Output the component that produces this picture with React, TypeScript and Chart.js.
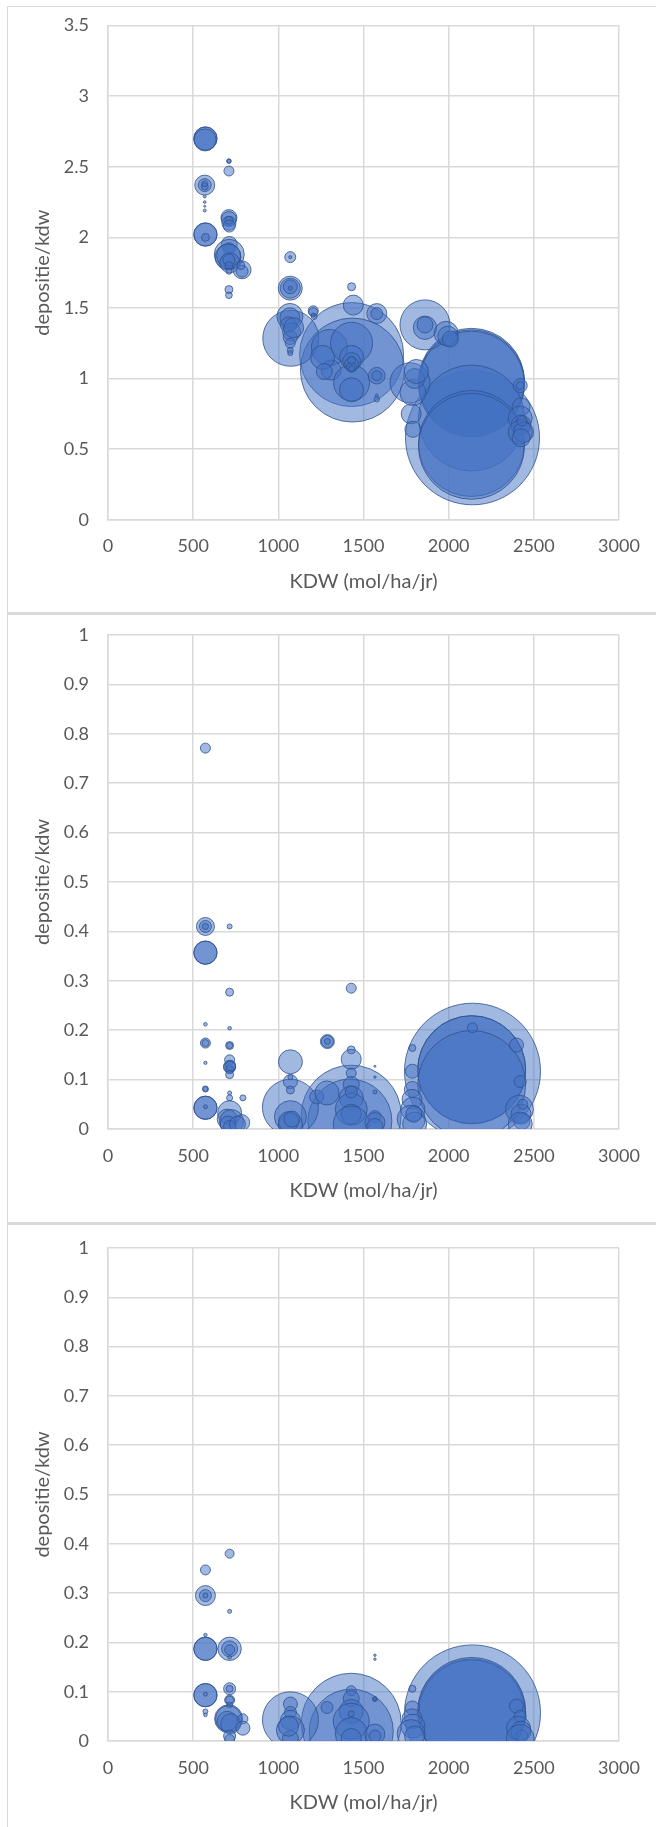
import { useEffect, useRef } from "react";
import { Chart, registerables } from "chart.js";
Chart.register(...registerables);

// ---- axis ticks ----
const xTicks = [0, 500, 1000, 1500, 2000, 2500, 3000];
const yTicksTop = [0, 0.5, 1, 1.5, 2, 2.5, 3, 3.5];
const yTicksSub = [0, 0.1, 0.2, 0.3, 0.4, 0.5, 0.6, 0.7, 0.8, 0.9, 1];

const xTitle = "KDW (mol/ha/jr)";
const yTitle = "depositie/kdw";

// ---- bubbles: [KDW, depositie/kdw, bubble size] ----
const panel1Bubbles: [number, number, number][] = [
  [2140, 0.58, 67], [2134, 0.98, 53], [2134, 0.97, 53], [2134, 0.96, 53], [2134, 0.72, 53], [2134, 0.54, 53], [2134, 0.52, 53],
  [1430, 1.17, 52], [1435, 1.06, 52],
  [1073, 1.285, 28],
  [1861, 1.38, 25], [1861, 1.36, 11.7], [1861, 1.38, 8],
  [572, 2.7, 11.7], [572, 2.7, 11.5], [570, 2.69, 11],
  [568, 2.37, 10], [568, 2.37, 6.5], [568, 2.36, 3.5], [568, 2.38, 3],
  [568, 2.29, 1.5], [568, 2.25, 1.3], [568, 2.22, 1], [568, 2.19, 1.5],
  [572, 2.02, 11.7], [572, 2.02, 11.5], [572, 2.0, 4],
  [710, 2.54, 2.3], [710, 2.54, 2], [710, 2.47, 5],
  [710, 2.14, 8], [710, 2.13, 7.5], [710, 2.1, 7], [710, 2.12, 4], [712, 2.08, 6],
  [712, 1.95, 8], [710, 1.92, 6],
  [712, 1.88, 15], [705, 1.86, 13], [708, 1.87, 12], [715, 1.82, 10], [710, 1.84, 6], [710, 1.8, 4], [710, 1.76, 3],
  [787, 1.77, 9], [787, 1.76, 6], [780, 1.8, 4],
  [710, 1.63, 4], [710, 1.59, 3.3],
  [1070, 1.86, 5.5], [1070, 1.86, 1.5],
  [1070, 1.64, 12], [1070, 1.64, 10], [1070, 1.65, 7], [1070, 1.64, 2],
  [1068, 1.44, 13], [1068, 1.43, 10], [1060, 1.38, 8], [1078, 1.33, 9], [1070, 1.29, 7], [1090, 1.36, 10], [1070, 1.25, 5], [1070, 1.2, 3], [1070, 1.18, 2.5],
  [1205, 1.48, 5], [1205, 1.47, 4.5], [1210, 1.44, 3], [1205, 1.45, 2],
  [1300, 1.22, 18], [1310, 1.06, 10], [1260, 1.15, 12], [1270, 1.05, 8],
  [1430, 1.25, 21], [1430, 0.97, 18], [1430, 0.92, 12],
  [1430, 1.15, 12], [1430, 1.12, 9], [1430, 1.1, 7], [1430, 1.08, 5], [1430, 1.07, 3], [1430, 1.13, 4],
  [1440, 1.52, 10], [1430, 1.65, 4],
  [1578, 1.46, 10], [1578, 1.46, 6], [1578, 1.02, 8.3], [1578, 1.02, 5], [1578, 0.88, 1.5], [1578, 0.853, 2.7],
  [1773, 0.97, 20], [1790, 0.9, 13], [1780, 0.75, 10], [1790, 0.64, 8], [1800, 1.0, 10], [1810, 1.05, 12],
  [1985, 1.32, 12], [1995, 1.3, 10], [2010, 1.28, 8],
  [2420, 0.95, 7], [2420, 0.95, 4], [2425, 0.8, 9], [2420, 0.72, 12], [2425, 0.67, 10], [2430, 0.66, 8],
  [2420, 0.62, 12], [2440, 0.62, 10], [2425, 0.58, 9], [2430, 0.7, 5],
];

const panel2Bubbles: [number, number, number][] = [
  [2140, 0.117, 68], [2135, 0.12, 54], [2135, 0.12, 54], [2135, 0.09, 54], [2140, 0.205, 5],
  [1428, 0.028, 50], [1420, 0.016, 42],
  [1071, 0.044, 28],
  [572, 0.771, 5],
  [572, 0.41, 9], [572, 0.41, 6], [572, 0.41, 3],
  [714, 0.41, 2.5],
  [572, 0.357, 11.7], [572, 0.357, 11.5],
  [714, 0.277, 4],
  [572, 0.212, 1.8], [714, 0.204, 1.8],
  [572, 0.174, 5], [572, 0.174, 3.5], [714, 0.169, 4], [714, 0.169, 3],
  [572, 0.134, 1.6],
  [714, 0.14, 5], [714, 0.127, 6], [714, 0.125, 6], [714, 0.12, 4], [714, 0.11, 4], [720, 0.128, 5],
  [572, 0.081, 3], [572, 0.081, 2.5],
  [714, 0.073, 2], [714, 0.063, 3], [792, 0.063, 3],
  [572, 0.043, 11.7], [572, 0.043, 11.5], [572, 0.045, 2],
  [714, 0.033, 12], [700, 0.02, 10], [725, 0.015, 12], [785, 0.013, 8], [705, 0.01, 8], [714, 0.005, 6], [760, 0.01, 8],
  [1071, 0.136, 12],
  [1071, 0.096, 7], [1071, 0.079, 4], [1071, 0.105, 2.5],
  [1071, 0.025, 16], [1071, 0.009, 12], [1060, 0.015, 10], [1080, 0.02, 8],
  [1288, 0.177, 7], [1288, 0.177, 6], [1288, 0.177, 3],
  [1225, 0.065, 7], [1286, 0.073, 12],
  [1428, 0.285, 5],
  [1428, 0.16, 4], [1428, 0.141, 10],
  [1428, 0.113, 5], [1428, 0.09, 8], [1428, 0.063, 12], [1428, 0.04, 16], [1428, 0.03, 10], [1428, 0.01, 18], [1428, 0.075, 6],
  [1567, 0.127, 1], [1567, 0.105, 1.2], [1567, 0.075, 2],
  [1567, 0.025, 6], [1567, 0.013, 10], [1567, 0.005, 8],
  [1787, 0.164, 3.5], [1787, 0.117, 7],
  [1787, 0.08, 8], [1785, 0.06, 10], [1790, 0.04, 12], [1780, 0.02, 14], [1800, 0.01, 12], [1795, 0.03, 8],
  [2398, 0.17, 7], [2420, 0.096, 6], [2415, 0.04, 14], [2425, 0.03, 10], [2430, 0.015, 8], [2420, 0.01, 12], [2435, 0.05, 5],
];

const panel3Bubbles: [number, number, number][] = [
  [2140, 0.057, 68], [2135, 0.057, 54], [2135, 0.057, 53], [2135, 0.06, 54],
  [1428, 0.036, 50], [1428, 0.02, 42],
  [1071, 0.043, 28],
  [714, 0.38, 4.5],
  [572, 0.347, 5],
  [572, 0.295, 10], [572, 0.295, 6], [572, 0.295, 2.5],
  [714, 0.263, 2],
  [572, 0.215, 1.7],
  [572, 0.187, 11.7], [572, 0.187, 11.5],
  [714, 0.187, 11.7], [714, 0.187, 8], [714, 0.185, 5], [714, 0.17, 1.8],
  [714, 0.106, 6], [714, 0.106, 3.5],
  [572, 0.093, 11.7], [572, 0.093, 11.5], [572, 0.095, 2],
  [714, 0.083, 5], [714, 0.083, 4], [714, 0.073, 3],
  [572, 0.06, 2.5], [572, 0.053, 1.8],
  [708, 0.045, 14], [708, 0.045, 13], [700, 0.04, 10], [720, 0.035, 10],
  [792, 0.045, 5], [792, 0.026, 7],
  [714, 0.01, 6], [714, 0.003, 5],
  [1071, 0.075, 7], [1071, 0.058, 6], [1071, 0.042, 10], [1071, 0.022, 14], [1071, 0.005, 8], [1060, 0.03, 10],
  [1286, 0.068, 6],
  [1428, 0.102, 5], [1428, 0.086, 8], [1428, 0.06, 12], [1428, 0.04, 18], [1428, 0.015, 16], [1428, 0.005, 10], [1428, 0.055, 3],
  [1567, 0.174, 1.2], [1567, 0.166, 1.2], [1567, 0.085, 2.5], [1567, 0.085, 1.5],
  [1567, 0.014, 10], [1567, 0.01, 6],
  [1787, 0.106, 3.5], [1787, 0.067, 7],
  [1785, 0.045, 10], [1790, 0.03, 12], [1780, 0.015, 14], [1800, 0.01, 10],
  [2398, 0.071, 7], [2420, 0.05, 6], [2410, 0.026, 12], [2425, 0.02, 10], [2430, 0.01, 6], [2420, 0.005, 14],
];

const FONT = "Lato, 'Open Sans', sans-serif";
const TEXT = "#595959";
const GRID = "#d9d9d9";
const X_AXIS_H = 73.4;

function fmt(v: number) {
  return String(Number(v.toFixed(2)));
}

function makeChart(
  canvas: HTMLCanvasElement,
  bubbles: [number, number, number][],
  yTicks: number[],
  padTop: number,
  padBottom: number
) {
  const yMax = yTicks[yTicks.length - 1];
  return new Chart(canvas, {
    type: "bubble",
    data: {
      datasets: [
        {
          data: bubbles.map(([x, y, r]) => ({ x, y, r })),
          backgroundColor: "rgba(68,114,196,0.5)",
          borderColor: "rgba(47,82,143,0.8)",
          borderWidth: 1,
          clip: 0,
        } as any,
      ],
    },
    options: {
      responsive: false,
      animation: false,
      events: [],
      layout: { autoPadding: false, padding: { left: 0, right: 37, top: padTop, bottom: padBottom } },
      plugins: { legend: { display: false }, tooltip: { enabled: false } },
      scales: {
        x: {
          type: "linear",
          min: 0,
          max: 3000,
          afterBuildTicks: (s: any) => {
            s.ticks = xTicks.map((v) => ({ value: v }));
          },
          afterFit: (s: any) => {
            s.height = X_AXIS_H;
            s.paddingLeft = 0;
            s.paddingRight = 0;
          },
          grid: { color: GRID, lineWidth: 1.5, drawTicks: false },
          border: { color: GRID, width: 1.5 },
          ticks: {
            padding: 16,
            color: TEXT,
            font: { family: FONT, size: 18 },
            maxRotation: 0,
            autoSkip: false,
            callback: (v: any) => fmt(Number(v)),
          },
          title: {
            display: true,
            text: xTitle,
            color: TEXT,
            font: { family: FONT, size: 20 },
            padding: 0,
          },
        },
        y: {
          type: "linear",
          min: 0,
          max: yMax,
          afterBuildTicks: (s: any) => {
            s.ticks = yTicks.map((v) => ({ value: v }));
          },
          afterFit: (s: any) => {
            s.width = 108;
            s.paddingTop = 0;
            s.paddingBottom = 0;
          },
          grid: { color: GRID, lineWidth: 1.5, drawTicks: false },
          border: { color: GRID, width: 1.5 },
          ticks: {
            padding: 19,
            color: TEXT,
            font: { family: FONT, size: 18 },
            autoSkip: false,
            callback: (v: any) => fmt(Number(v)),
          },
          title: {
            display: true,
            text: yTitle,
            color: TEXT,
            font: { family: FONT, size: 20 },
            padding: { top: 31, bottom: 0 },
          },
        },
      },
    } as any,
  });
}

const panels = [
  { top: 0, height: 612, bubbles: panel1Bubbles, yTicks: yTicksTop, padTop: 25.6, padBottom: 612 - 519.7 - X_AXIS_H },
  { top: 612, height: 611, bubbles: panel2Bubbles, yTicks: yTicksSub, padTop: 23, padBottom: 611 - 517 - X_AXIS_H },
  { top: 1223, height: 604, bubbles: panel3Bubbles, yTicks: yTicksSub, padTop: 25, padBottom: 604 - 518 - X_AXIS_H },
];

export default function App() {
  const refs = [useRef<HTMLCanvasElement>(null), useRef<HTMLCanvasElement>(null), useRef<HTMLCanvasElement>(null)];

  useEffect(() => {
    const charts: Chart[] = [];
    panels.forEach((p, i) => {
      const c = refs[i].current;
      if (c) charts.push(makeChart(c, p.bubbles, p.yTicks, p.padTop, p.padBottom));
    });
    return () => charts.forEach((c) => c.destroy());
  }, []);

  return (
    <div style={{ position: "absolute", left: 0, top: 0, width: 656, height: 1827, background: "#fff", overflow: "hidden" }}>
      {/* frame lines */}
      <div style={{ position: "absolute", left: 7, top: 6, width: 649, height: 1, background: GRID }} />
      <div style={{ position: "absolute", left: 7, top: 6, width: 1, height: 1821, background: GRID }} />
      <div style={{ position: "absolute", left: 7, top: 612, width: 649, height: 3, background: GRID }} />
      <div style={{ position: "absolute", left: 7, top: 1222, width: 649, height: 3, background: GRID }} />
      {panels.map((p, i) => (
        <canvas
          key={i}
          ref={refs[i]}
          width={656}
          height={p.height}
          style={{ position: "absolute", left: 0, top: p.top, width: 656, height: p.height, display: "block" }}
        />
      ))}
    </div>
  );
}
